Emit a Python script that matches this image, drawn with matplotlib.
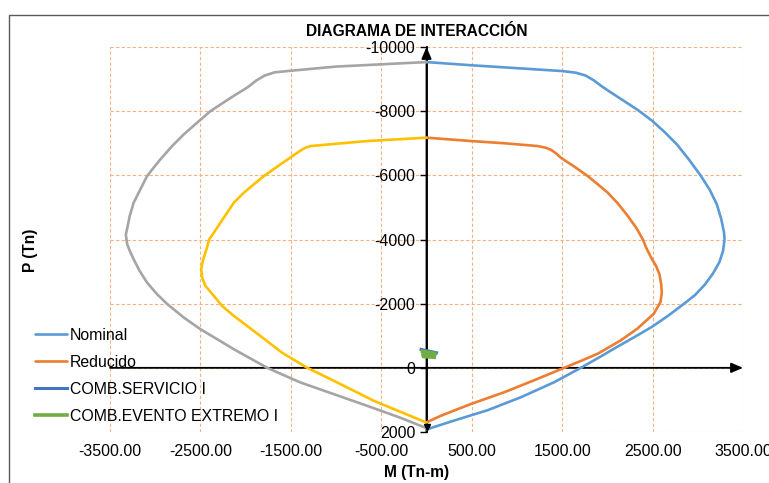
import matplotlib
matplotlib.use('Agg')
import matplotlib.pyplot as plt
from matplotlib.patches import Rectangle

plt.rcParams['font.family'] = ['Liberation Sans', 'DejaVu Sans']
plt.rcParams['axes.unicode_minus'] = False

# Nominal (right half, blue)
nom_m = [0, 500, 1000, 1500, 1650, 1760, 1850, 1960, 2150, 2340, 2500, 2640, 2770, 2900, 3030,
         3130, 3210, 3260, 3290, 3296, 3280, 3240, 3170, 3080, 2970, 2840, 2670, 2489, 2300,
         2100, 1906, 1706, 1412, 1044, 676, 309, 0]
nom_p = [-9530, -9430, -9340, -9250, -9200, -9110, -8960, -8730, -8380, -8030, -7690, -7330, -6960,
         -6500, -6000, -5560, -5100, -4630, -4220, -4000, -3650, -3300, -2950, -2600, -2270, -1980,
         -1620, -1271, -960, -640, -320, 0, 448, 917, 1320, 1640, 1920]

# Nominal mirror (left half, gray)
nom_izq_m = [0, -500, -1000, -1500, -1680, -1790, -1880, -1980, -2130, -2389, -2536, -2684, -2813,
             -2943, -3017, -3090, -3164, -3238, -3282, -3312, -3325, -3310, -3282, -3238, -3172,
             -3090, -2979, -2868, -2684, -2499, -2314, -2130, -1946, -1761, -1577, -1392, -1023,
             -653, -285, 0]
nom_izq_p = [-9530, -9460, -9390, -9260, -9210, -9110, -8960, -8740, -8480, -8003, -7642, -7277,
             -6913, -6498, -6240, -5978, -5564, -5150, -4732, -4318, -4150, -3850, -3650, -3383,
             -3019, -2657, -2293, -1990, -1567, -1202, -891, -579, -290, 0, 231, 458, 822, 1187,
             1560, 1880]

# Reduced (right half, orange)
red_m = [0, 490, 860, 1229, 1320, 1380, 1430, 1490, 1635, 1783, 1894, 2004, 2115, 2226, 2318,
         2392, 2429, 2484, 2539, 2576, 2595, 2602, 2588, 2514, 2331, 2147, 1900, 1720, 1522, 1228,
         860, 493, 162, 0]
red_p = [-7174, -7069, -7000, -6913, -6860, -6790, -6690, -6540, -6271, -5978, -5720, -5461, -5128,
         -4732, -4371, -4006, -3748, -3436, -3174, -2916, -2604, -2346, -2052, -1688, -1219, -854,
         -450, -230, 0, 344, 761, 1125, 1490, 1700]

# Reduced mirror (left half, yellow)
red_izq_m = [0, -653, -1281, -1340, -1400, -1503, -1614, -1798, -1909, -2019, -2130, -2204, -2278,
             -2351, -2403, -2433, -2469, -2492, -2481, -2444, -2351, -2259, -2130, -1960, -1790,
             -1600, -1318, -1060, -838, -580, -358, -137, 0]
red_izq_p = [-7174, -7069, -6913, -6860, -6760, -6560, -6343, -5978, -5720, -5461, -5150, -4838,
             -4527, -4215, -4006, -3695, -3383, -3072, -2813, -2551, -2240, -1928, -1617, -1255,
             -891, -477, 0, 355, 667, 1031, 1290, 1548, 1704]

# Load combinations
serv_m = [-60, 110]
serv_p = [-575, -470]
ext_m = [-45, 95, 90, -40, -35, 85]
ext_p = [-520, -450, -380, -430, -350, -330]

x_ticks = [-3500, -2500, -1500, -500, 500, 1500, 2500, 3500]
y_ticks = [-10000, -8000, -6000, -4000, -2000, 0, 2000]

fig = plt.figure(figsize=(7.69, 4.83), dpi=100)
ax = fig.add_axes([110 / 769, 51 / 483, 633 / 769, 385 / 483])

grid_c = '#F4B183'
kw = dict(lw=1.9, solid_joinstyle='round', solid_capstyle='round', zorder=3)
ax.plot(nom_m, nom_p, color='#5B9BD5', label='Nominal', **kw)
ax.plot(red_m, red_p, color='#ED7D31', label='Reducido', **kw)
ax.plot(serv_m, serv_p, color='#4472C4', lw=2.2, label='COMB.SERVICIO I', zorder=4)
ax.plot(ext_m, ext_p, color='#70AD47', lw=2.6, label='COMB.EVENTO EXTREMO I', zorder=5)
ax.plot(nom_izq_m, nom_izq_p, color='#A5A5A5', **kw)
ax.plot(red_izq_m, red_izq_p, color='#FFC000', **kw)

ax.set_xlim(-3500, 3500)
ax.set_ylim(2000, -10000)
ax.set_xticks(x_ticks)
ax.set_xticklabels(['%.2f' % v for v in x_ticks])
ax.set_yticks(y_ticks)
ax.set_yticklabels([str(v) for v in y_ticks])
ax.grid(True, color=grid_c, ls=(0, (3, 2)), lw=0.8, zorder=0)
ax.set_axisbelow(True)

for s in ['top', 'right', 'bottom']:
    ax.spines[s].set_visible(False)
ax.spines['left'].set_position(('data', 0))
ax.spines['left'].set_color('black')
ax.spines['left'].set_linewidth(1.3)
ax.spines['left'].set_zorder(2.5)
ax.tick_params(axis='y', direction='out', length=5, width=1, pad=3, labelsize=11.5)
ax.tick_params(axis='x', length=0, pad=9, labelsize=11.5)

# axis arrows
ax.annotate('', xy=(3500, 0), xytext=(-3500, 0),
            arrowprops=dict(arrowstyle='-|>,head_length=0.7,head_width=0.3', color='black', lw=1.3,
                            shrinkA=0, shrinkB=0), annotation_clip=False, zorder=2.5)
ax.annotate('', xy=(0, -10000), xytext=(0, 2000),
            arrowprops=dict(arrowstyle='-|>,head_length=0.7,head_width=0.3', color='black', lw=1.3,
                            shrinkA=0, shrinkB=0), annotation_clip=False, zorder=2.5)
ax.plot([0], [1830], marker='v', color='black', ms=5, zorder=6, clip_on=False)

fig.text(417 / 769, 1 - 32 / 483, 'DIAGRAMA DE INTERACCIÓN', fontsize=11.2, fontweight='bold',
         ha='center', va='center')
fig.text(417 / 769, 1 - 472 / 483, 'M (Tn-m)', fontsize=11.2, fontweight='bold',
         ha='center', va='center')
fig.text(30 / 769, 1 - 250 / 483, 'P (Tn)', fontsize=11.2, fontweight='bold',
         rotation=90, ha='center', va='center')

fig.legend(loc='upper left', bbox_to_anchor=(27 / 769, 1 - 320 / 483), frameon=False,
           fontsize=11.4, borderpad=0, handlelength=2.0, handletextpad=0.2, labelspacing=0.76)

fig.patches.append(Rectangle((9 / 769, -0.1), 1.2, 1 - 15 / 483 + 0.1, transform=fig.transFigure,
                             fill=False, ec='#595959', lw=1))

fig.savefig('out.png', dpi=100)
